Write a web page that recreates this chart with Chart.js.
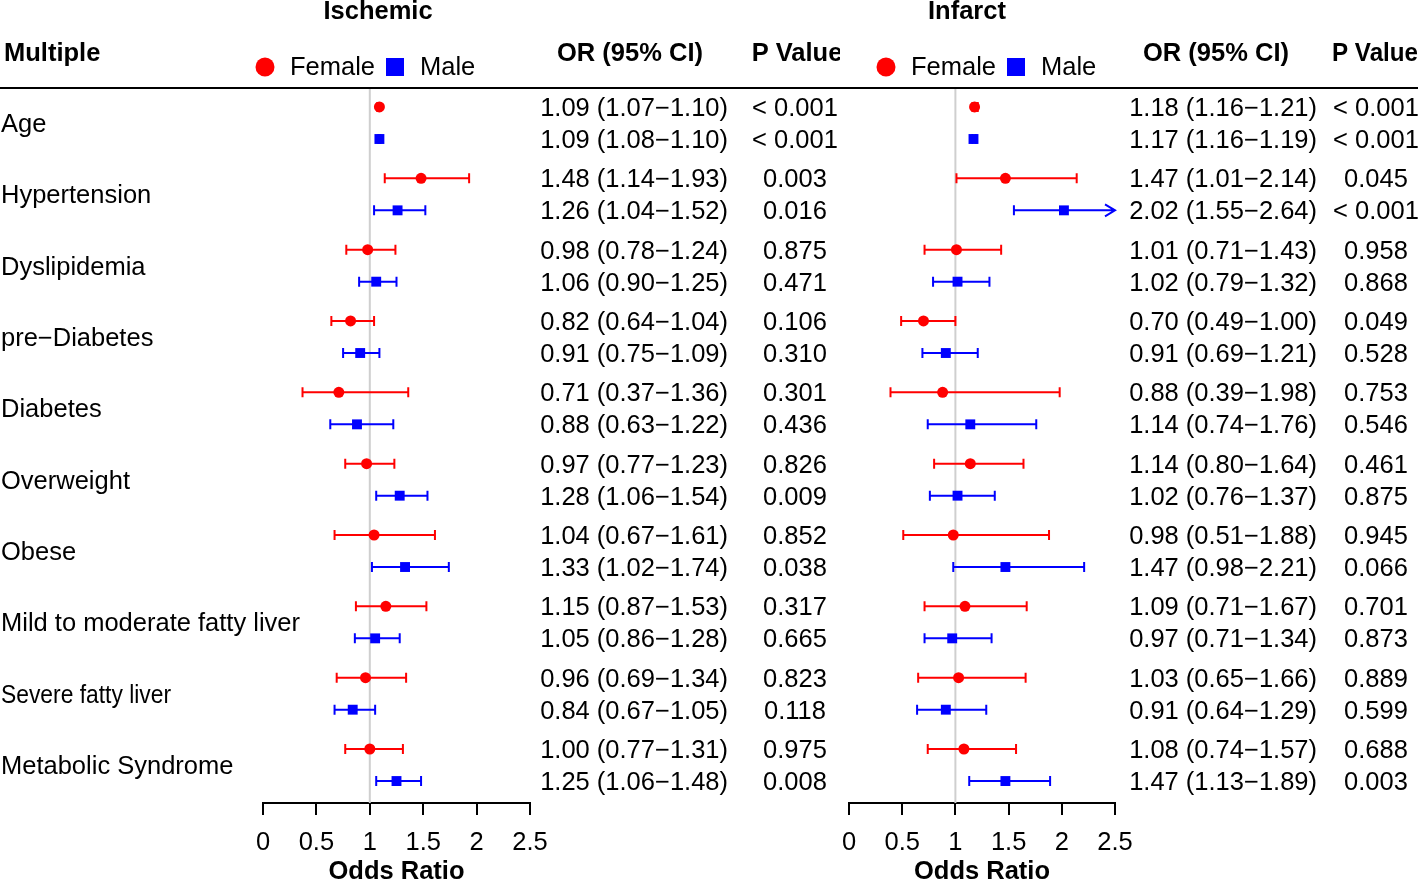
<!DOCTYPE html>
<html><head><meta charset="utf-8">
<script src="https://cdn.jsdelivr.net/npm/chart.js@4.4.1/dist/chart.umd.min.js"></script>
<style>
html,body{margin:0;padding:0;background:#fff;overflow:hidden}
#wrap{position:relative;width:1418px;height:881px;background:#fff;overflow:hidden}
canvas{position:absolute;top:0}
</style></head><body>
<div id="wrap">
<canvas id="c1" width="840" height="896" style="left:0px"></canvas>
<canvas id="c2" width="608" height="896" style="left:810px"></canvas>
</div>
<script>
// ---------- data ----------
const categories = ["Age","Hypertension","Dyslipidemia","pre\u2212Diabetes","Diabetes","Overweight","Obese","Mild to moderate fatty liver","Severe fatty liver","Metabolic Syndrome"];
const xTicks = [0, 0.5, 1, 1.5, 2, 2.5];

const ischFemaleOR = [1.09, 1.48, 0.98, 0.82, 0.71, 0.97, 1.04, 1.15, 0.96, 1.00];
const ischFemaleLo = [1.07, 1.14, 0.78, 0.64, 0.37, 0.77, 0.67, 0.87, 0.69, 0.77];
const ischFemaleHi = [1.10, 1.93, 1.24, 1.04, 1.36, 1.23, 1.61, 1.53, 1.34, 1.31];
const ischFemaleP  = ["< 0.001","0.003","0.875","0.106","0.301","0.826","0.852","0.317","0.823","0.975"];
const ischMaleOR   = [1.09, 1.26, 1.06, 0.91, 0.88, 1.28, 1.33, 1.05, 0.84, 1.25];
const ischMaleLo   = [1.08, 1.04, 0.90, 0.75, 0.63, 1.06, 1.02, 0.86, 0.67, 1.06];
const ischMaleHi   = [1.10, 1.52, 1.25, 1.09, 1.22, 1.54, 1.74, 1.28, 1.05, 1.48];
const ischMaleP    = ["< 0.001","0.016","0.471","0.310","0.436","0.009","0.038","0.665","0.118","0.008"];

const infFemaleOR = [1.18, 1.47, 1.01, 0.70, 0.88, 1.14, 0.98, 1.09, 1.03, 1.08];
const infFemaleLo = [1.16, 1.01, 0.71, 0.49, 0.39, 0.80, 0.51, 0.71, 0.65, 0.74];
const infFemaleHi = [1.21, 2.14, 1.43, 1.00, 1.98, 1.64, 1.88, 1.67, 1.66, 1.57];
const infFemaleP  = ["< 0.001","0.045","0.958","0.049","0.753","0.461","0.945","0.701","0.889","0.688"];
const infMaleOR   = [1.17, 2.02, 1.02, 0.91, 1.14, 1.02, 1.47, 0.97, 0.91, 1.47];
const infMaleLo   = [1.16, 1.55, 0.79, 0.69, 0.74, 0.76, 0.98, 0.71, 0.64, 1.13];
const infMaleHi   = [1.19, 2.64, 1.32, 1.21, 1.76, 1.37, 2.21, 1.34, 1.29, 1.89];
const infMaleP    = ["< 0.001","< 0.001","0.868","0.528","0.546","0.875","0.066","0.873","0.599","0.003"];

// ---------- style ----------
const FONT = '"Liberation Sans", Arial, Helvetica, sans-serif';
const FS = 25.5;
const RED = '#ff0000', BLUE = '#0000ff';
const MALE_OFF = 0.449;

function buildPoints(or, lo, hi, off) {
  return or.map((v, i) => ({ x: v, y: i + off, lo: lo[i], hi: hi[i] }));
}
function ciText(or, lo, hi) {
  return or.toFixed(2) + ' (' + lo.toFixed(2) + '\u2212' + hi.toFixed(2) + ')';
}

function forestPlugin(p) {
  return {
    id: 'forest',
    beforeDatasetsDraw(chart) {
      const { ctx, chartArea: a, scales: { x, y } } = chart;
      ctx.save();
      const x1 = x.getPixelForValue(1);
      ctx.strokeStyle = '#cfcfcf'; ctx.lineWidth = 2;
      ctx.beginPath(); ctx.moveTo(x1, a.top); ctx.lineTo(x1, a.bottom); ctx.stroke();
      chart.data.datasets.forEach(ds => {
        ctx.strokeStyle = ds.backgroundColor; ctx.lineWidth = 2;
        ds.data.forEach(d => {
          const py = y.getPixelForValue(d.y);
          const pl = x.getPixelForValue(d.lo);
          const clipped = d.hi > x.max;
          const ph = x.getPixelForValue(Math.min(d.hi, x.max));
          ctx.beginPath();
          ctx.moveTo(pl, py); ctx.lineTo(ph, py);
          ctx.moveTo(pl, py - 5); ctx.lineTo(pl, py + 5);
          if (clipped) {
            ctx.moveTo(ph - 10, py - 6); ctx.lineTo(ph, py); ctx.lineTo(ph - 10, py + 6);
          } else {
            ctx.moveTo(ph, py - 5); ctx.lineTo(ph, py + 5);
          }
          ctx.stroke();
        });
      });
      ctx.restore();
    },
    afterDraw(chart) {
      const { ctx, scales: { y } } = chart;
      const W = chart.width;
      ctx.save();
      // header rule
      ctx.strokeStyle = '#000'; ctx.lineWidth = 2;
      ctx.beginPath(); ctx.moveTo(p.ruleStart, 88); ctx.lineTo(W, 88); ctx.stroke();
      ctx.fillStyle = '#000';
      ctx.textBaseline = 'alphabetic';
      // headers
      ctx.font = 'bold ' + FS + 'px ' + FONT;
      ctx.textAlign = 'center';
      ctx.fillText(p.title, p.titleX, 19);
      ctx.fillText('OR (95% CI)', p.orHeadX, 61);
      ctx.fillText('P Value', p.pHeadX, 61, p.pHeadW);
      if (p.showLabels) {
        ctx.textAlign = 'left';
        ctx.fillText('Multiple', 4, 61);
      }
      // legend
      ctx.fillStyle = RED;
      ctx.beginPath(); ctx.arc(p.legX, 67, 9.5, 0, Math.PI * 2); ctx.fill();
      ctx.fillStyle = BLUE;
      ctx.fillRect(p.legX + 121, 58, 18, 18);
      ctx.fillStyle = '#000';
      ctx.font = FS + 'px ' + FONT;
      ctx.textAlign = 'left';
      ctx.fillText('Female', p.legX + 25, 75);
      ctx.fillText('Male', p.legX + 155, 75);
      // row labels
      if (p.showLabels) {
        categories.forEach((c, i) => {
          const py = y.getPixelForValue(i + MALE_OFF / 2);
          if (c === 'Severe fatty liver') ctx.fillText(c, 1, py + 9, 170);
          else ctx.fillText(c, 1, py + 9);
        });
      }
      // OR text and p values
      const rows = [
        [p.fOR, p.fLo, p.fHi, p.fP, 0],
        [p.mOR, p.mLo, p.mHi, p.mP, MALE_OFF]
      ];
      rows.forEach(([or, lo, hi, pv, off]) => {
        or.forEach((v, i) => {
          const py = y.getPixelForValue(i + off) + 9;
          ctx.textAlign = 'right';
          ctx.fillText(ciText(v, lo[i], hi[i]), p.orRight, py);
          ctx.textAlign = 'center';
          ctx.fillText(pv[i], p.pX, py);
        });
      });
      ctx.restore();
    }
  };
}

function makeChart(id, p) {
  return new Chart(document.getElementById(id), {
    type: 'scatter',
    data: {
      datasets: [
        { label: 'Female', data: buildPoints(p.fOR, p.fLo, p.fHi, 0),
          pointStyle: 'circle', pointRadius: 5.5, backgroundColor: RED, borderColor: RED, borderWidth: 0 },
        { label: 'Male', data: buildPoints(p.mOR, p.mLo, p.mHi, MALE_OFF),
          pointStyle: 'rect', pointRadius: 7, backgroundColor: BLUE, borderColor: BLUE, borderWidth: 0 }
      ]
    },
    options: {
      responsive: false, animation: false, events: [],
      layout: { padding: { left: p.padL, right: p.padR, top: 88, bottom: 0 } },
      plugins: { legend: { display: false }, tooltip: { enabled: false } },
      scales: {
        x: {
          type: 'linear', min: 0, max: 2.5,
          afterBuildTicks: s => { s.ticks = xTicks.map(v => ({ value: v })); },
          grid: { display: true, drawOnChartArea: false, drawTicks: true, tickLength: 12, color: '#000', lineWidth: 2 },
          border: { display: true, color: '#000', width: 2 },
          ticks: { color: '#000', font: { family: FONT, size: FS, lineHeight: 1 }, padding: 15, maxRotation: 0,
                   callback: v => String(v) },
          title: { display: true, text: 'Odds Ratio', color: '#000',
                   font: { family: FONT, size: FS, weight: 'bold', lineHeight: 1 }, padding: { top: -11, bottom: 11 } }
        },
        y: { type: 'linear', display: false, reverse: true, min: -0.266, max: 9.757 }
      }
    },
    plugins: [forestPlugin(p)]
  });
}

makeChart('c1', {
  title: 'Ischemic', titleX: 378, orHeadX: 630, pHeadX: 797, pHeadW: 95, showLabels: true, ruleStart: 0,
  legX: 265, orRight: 728, pX: 795, padL: 263, padR: 310,
  fOR: ischFemaleOR, fLo: ischFemaleLo, fHi: ischFemaleHi, fP: ischFemaleP,
  mOR: ischMaleOR, mLo: ischMaleLo, mHi: ischMaleHi, mP: ischMaleP
});
makeChart('c2', {
  title: 'Infarct', titleX: 157, orHeadX: 406, pHeadX: 565, pHeadW: 86, showLabels: false, ruleStart: 0,
  legX: 76, orRight: 507, pX: 566, padL: 39, padR: 303,
  fOR: infFemaleOR, fLo: infFemaleLo, fHi: infFemaleHi, fP: infFemaleP,
  mOR: infMaleOR, mLo: infMaleLo, mHi: infMaleHi, mP: infMaleP
});
</script>
</body></html>
